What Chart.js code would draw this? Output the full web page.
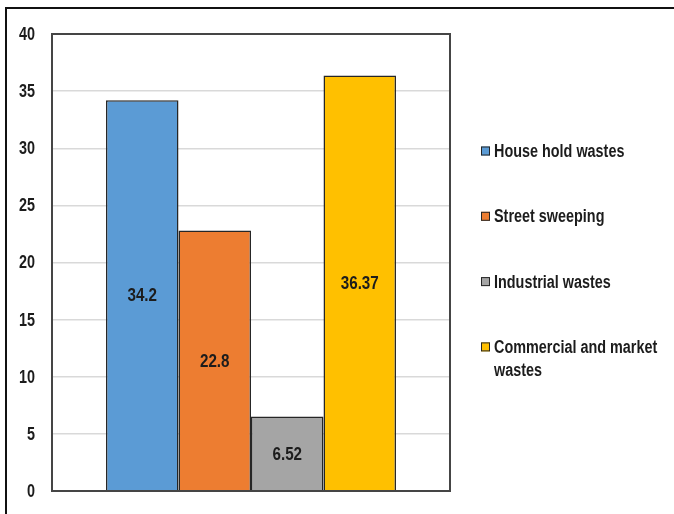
<!DOCTYPE html>
<html>
<head>
<meta charset="utf-8">
<style>
  html, body { margin: 0; padding: 0; background: #ffffff; }
  #wrap { position: relative; width: 674px; height: 514px; }
  canvas { display: block; }
</style>
<script src="https://cdn.jsdelivr.net/npm/chart.js@4/dist/chart.umd.min.js"></script>
</head>
<body>
<div id="wrap"><canvas id="c" width="674" height="514"></canvas></div>
<script>
// Waste composition by source (%)
const categories = [''];
const seriesLabels = ['House hold wastes', 'Street sweeping', 'Industrial wastes', 'Commercial and market wastes'];
const seriesValues = [34.2, 22.8, 6.52, 36.37];
const seriesColors = ['#5B9BD5', '#ED7D31', '#A5A5A5', '#FFC000'];
const yMin = 0, yMax = 40, yStep = 5;

const FACE = "'Liberation Sans', Arial, sans-serif";
const INK = '#1c1c1c';
const SQUEEZE = 0.8;   // horizontal condensing of all text

// Draw horizontally condensed text
function narrowText(ctx, text, x, y, align) {
  const w = ctx.measureText(text).width * SQUEEZE;
  let left = x;
  if (align === 'center') left = x - w / 2;
  else if (align === 'right') left = x - w;
  ctx.save();
  ctx.translate(left, y);
  ctx.scale(SQUEEZE, 1);
  ctx.textAlign = 'left';
  ctx.fillText(text, 0, 0);
  ctx.restore();
}

// Outer frame lines, plot border and y tick labels
const framePlugin = {
  id: 'frame',
  beforeDraw(chart) {
    const ctx = chart.ctx;
    ctx.save();
    ctx.strokeStyle = '#111111';
    ctx.lineWidth = 2;
    ctx.beginPath();
    ctx.moveTo(674, 8);
    ctx.lineTo(6, 8);
    ctx.lineTo(6, 514);
    ctx.stroke();
    ctx.restore();
  },
  afterDatasetsDraw(chart) {
    const { ctx, chartArea: a } = chart;
    ctx.save();
    ctx.strokeStyle = '#454545';
    ctx.lineWidth = 2;
    ctx.strokeRect(a.left, a.top, a.right - a.left, a.bottom - a.top);
    // y axis tick labels
    const ys = chart.scales.y;
    ctx.font = 'bold 18px ' + FACE;
    ctx.fillStyle = INK;
    ctx.textBaseline = 'middle';
    ys.ticks.forEach(t => {
      narrowText(ctx, String(t.value), a.left - 17, ys.getPixelForValue(t.value) + 1, 'right');
    });
    ctx.restore();
  }
};

// Value labels centred inside each bar
const valueLabelPlugin = {
  id: 'valueLabels',
  afterDatasetsDraw(chart) {
    const ctx = chart.ctx;
    ctx.save();
    ctx.font = 'bold 19px ' + FACE;
    ctx.fillStyle = INK;
    ctx.textBaseline = 'middle';
    chart.data.datasets.forEach((ds, i) => {
      const meta = chart.getDatasetMeta(i);
      meta.data.forEach((bar, j) => {
        const v = ds.data[j];
        const cy = (bar.y + bar.base) / 2;
        narrowText(ctx, String(v), bar.x, cy + 1, 'center');
      });
    });
    ctx.restore();
  }
};

// Legend on the right with wrapped labels
const sideLegendPlugin = {
  id: 'sideLegend',
  afterDraw(chart) {
    const ctx = chart.ctx;
    const x0 = 481, box = 9, textX = 494, maxW = 175;
    const firstY = 151, gap = 65.3, lineH = 23;
    ctx.save();
    ctx.font = 'bold 18px ' + FACE;
    ctx.textBaseline = 'middle';
    chart.data.datasets.forEach((ds, i) => {
      const cy = firstY + i * gap;
      ctx.fillStyle = ds.backgroundColor;
      ctx.fillRect(x0, cy - box / 2, box, box);
      ctx.strokeStyle = '#262626';
      ctx.lineWidth = 1;
      ctx.strokeRect(x0 + 0.5, cy - box / 2 + 0.5, box - 1, box - 1);
      const words = ds.label.split(' ');
      const lines = [];
      let cur = '';
      words.forEach(w => {
        const t = cur ? cur + ' ' + w : w;
        if (ctx.measureText(t).width * SQUEEZE > maxW && cur) { lines.push(cur); cur = w; }
        else cur = t;
      });
      if (cur) lines.push(cur);
      ctx.fillStyle = INK;
      lines.forEach((ln, k) => narrowText(ctx, ln, textX, cy + 1 + k * lineH, 'left'));
    });
    ctx.restore();
  }
};

new Chart(document.getElementById('c'), {
  type: 'bar',
  data: {
    labels: categories,
    datasets: seriesLabels.map((lab, i) => ({
      label: lab,
      data: [seriesValues[i]],
      backgroundColor: seriesColors[i],
      borderColor: '#262626',
      borderWidth: 1.5,
      categoryPercentage: 0.7286,
      barPercentage: 1.0
    }))
  },
  options: {
    responsive: false,
    animation: false,
    devicePixelRatio: 1,
    layout: { padding: { left: 0, top: 34, right: 224, bottom: 23 } },
    plugins: {
      legend: { display: false },
      tooltip: { enabled: false }
    },
    scales: {
      x: { display: false },
      y: {
        min: yMin,
        max: yMax,
        afterFit(scale) { scale.width = 52; },
        ticks: { stepSize: yStep, display: false },
        grid: { color: '#d9d9d9', lineWidth: 1.5, drawTicks: false },
        border: { display: false }
      }
    }
  },
  plugins: [framePlugin, valueLabelPlugin, sideLegendPlugin]
});
</script>
</body>
</html>
